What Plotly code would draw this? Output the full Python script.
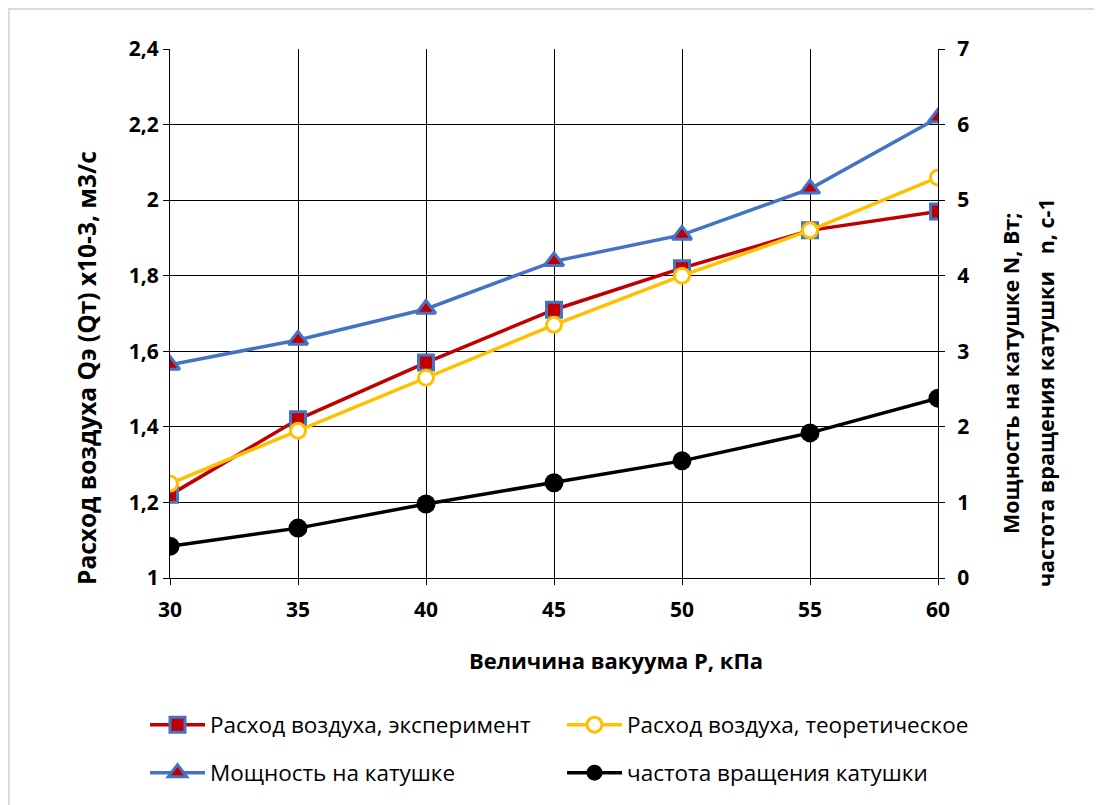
import plotly.graph_objects as go

x_vals = [30, 35, 40, 45, 50, 55, 60]
q_exp = [1.22, 1.42, 1.57, 1.71, 1.82, 1.92, 1.97]
q_theor = [1.25, 1.39, 1.53, 1.67, 1.80, 1.92, 2.06]
power = [2.82, 3.15, 3.56, 4.19, 4.54, 5.15, 6.09]
freq = [0.42, 0.66, 0.98, 1.26, 1.55, 1.92, 2.38]

left_ticks = [1, 1.2, 1.4, 1.6, 1.8, 2, 2.2, 2.4]
left_labels = ["1", "1,2", "1,4", "1,6", "1,8", "2", "2,2", "2,4"]
right_ticks = [0, 1, 2, 3, 4, 5, 6, 7]

FONT = "Open Sans"
L, T, PW, PH = 162, 41, 768, 529
W, H = 1102, 805

fig = go.Figure()
fig.add_trace(go.Scatter(
    x=x_vals, y=q_exp, name="Расход воздуха, эксперимент", mode="lines+markers", legend="legend",
    line=dict(color="#C00000", width=3.5),
    marker=dict(symbol="square", size=15, color="#C00000", line=dict(color="#4472C4", width=3)),
))
fig.add_trace(go.Scatter(
    x=x_vals, y=q_theor, name="Расход воздуха, теоретическое", mode="lines+markers", legend="legend2",
    line=dict(color="#FFC000", width=3.5),
    marker=dict(symbol="circle", size=15, color="white", line=dict(color="#FFC000", width=3)),
))
fig.add_trace(go.Scatter(
    x=x_vals, y=power, name="Мощность на катушке", mode="lines+markers", yaxis="y2", legend="legend3",
    line=dict(color="#4472C4", width=3.5),
    marker=dict(symbol="triangle-up", size=17, color="#C00000", line=dict(color="#4472C4", width=3)),
))
fig.add_trace(go.Scatter(
    x=x_vals, y=freq, name="частота вращения катушки", mode="lines+markers", yaxis="y2", legend="legend4",
    line=dict(color="black", width=3.5),
    marker=dict(symbol="circle", size=19, color="black"),
))

def px_x(p):
    return (p - 8 - L) / PW

def px_y(p):
    return 1 - (p - 8 - T) / PH

def leg(xp, yp):
    return dict(x=px_x(xp), xanchor="left", y=px_y(yp), yanchor="middle",
                orientation="h", itemwidth=55, bgcolor="rgba(0,0,0,0)",
                font=dict(size=22.5, family=FONT, color="black"))

def title_ann(text, xp, yp, size, angle):
    return dict(text=f"<b>{text}</b>", xref="paper", yref="paper",
                x=px_x(xp), y=px_y(yp), xanchor="center", yanchor="middle",
                textangle=angle, showarrow=False,
                font=dict(size=size, family=FONT, color="black"))

tickfont = dict(size=21, family=FONT, weight="bold", color="black")

fig.update_layout(
    width=W, height=H,
    margin=dict(l=L, r=W - L - PW, t=T, b=H - T - PH),
    plot_bgcolor="white", paper_bgcolor="white",
    font=dict(family=FONT, color="black"),
    showlegend=True,
    xaxis=dict(
        range=[30, 60], tickvals=x_vals, ticktext=[str(v) for v in x_vals],
        showgrid=True, gridcolor="black", gridwidth=1.2,
        showline=True, linecolor="black", linewidth=1.2,
        ticks="outside", ticklen=6, tickcolor="black", tickwidth=1.2,
        tickfont=tickfont, ticklabelstandoff=7,
        zeroline=False,
    ),
    yaxis=dict(
        range=[1, 2.4], tickvals=left_ticks, ticktext=left_labels,
        showgrid=True, gridcolor="black", gridwidth=1.2,
        showline=True, linecolor="black", linewidth=1.2,
        ticks="outside", ticklen=6, tickcolor="black", tickwidth=1.2,
        tickfont=tickfont,
        zeroline=False,
    ),
    yaxis2=dict(
        range=[0, 7], tickvals=right_ticks, overlaying="y", side="right",
        showgrid=False, showline=True, linecolor="black", linewidth=1.2,
        ticks="outside", ticklen=6, tickcolor="black", tickwidth=1.2,
        tickfont=tickfont, ticklabelstandoff=8,
        zeroline=False,
    ),
    annotations=[
        title_ann("Величина вакуума P, кПа", 616, 660, 22, 0),
        title_ann("Расход воздуха Qэ (Qт) х10-3, м3/с", 86, 368, 24.5, -90),
        title_ann("Мощность на катушке N, Вт;", 1010, 374, 21.5, -90),
        title_ann("частота вращения катушки   n, с-1", 1045, 393, 21.5, -90),
    ],
    legend=leg(145, 725),
    legend2=leg(562, 725),
    legend3=leg(145, 773),
    legend4=leg(562, 773),
    shapes=[dict(type="rect", xref="paper", yref="paper",
                 x0=-L / PW + 0.001, x1=(W - L) / PW + 0.5,
                 y0=-1.0, y1=1 + (T - 1) / PH,
                 line=dict(color="#D9D9D9", width=2), layer="below")],
)

fig.write_html("out.html")
